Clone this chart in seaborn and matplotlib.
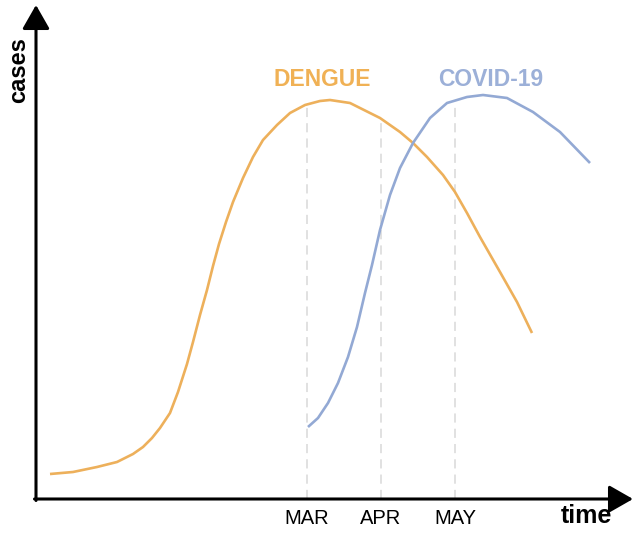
import matplotlib
matplotlib.use('Agg')
import matplotlib.pyplot as plt
import seaborn as sns
import pandas as pd

# curves (time units / case units, origin at the axes corner)
dengue_time = [14, 37, 61, 81, 97, 107, 116, 124, 134, 142, 151, 157, 164, 171, 177, 183, 190,
               197, 207, 217, 227, 241, 254, 269, 284, 294, 314, 344, 364, 377, 391, 407, 419,
               431, 444, 464, 481, 496]
dengue_cases = [25, 27, 32, 37, 45, 52, 61, 71, 86, 107, 135, 157, 184, 209, 233, 255, 277,
                297, 321, 342, 359, 374, 386, 394, 398, 399, 396, 381, 367, 356, 342, 324, 307,
                286, 262, 227, 197, 166]

covid_time = [272, 282, 292, 302, 312, 321, 329, 336, 344, 354, 364, 377, 394, 411, 431, 447,
              471, 497, 524, 554]
covid_cases = [72, 81, 96, 116, 142, 172, 206, 234, 269, 304, 331, 356, 381, 396, 402, 404,
               401, 387, 367, 336]

months = ['MAR', 'APR', 'MAY']
month_time = [271, 345, 419]
month_top = [394, 381, 396]

dengue_color = '#EDB05B'
covid_color = '#93A9D4'

sns.set_theme(style='white')
plt.rcParams['font.family'] = ['Liberation Sans', 'DejaVu Sans']

df = pd.concat([
    pd.DataFrame({'time': dengue_time, 'cases': dengue_cases, 'disease': 'DENGUE'}),
    pd.DataFrame({'time': covid_time, 'cases': covid_cases, 'disease': 'COVID-19'}),
])

fig = plt.figure(figsize=(6.37, 5.38), dpi=100)
ax = fig.add_axes([36 / 637, 39 / 538, 601 / 637, 499 / 538])

# dashed month guides
for t, top in zip(month_time, month_top):
    ax.plot([t, t], [0, top], color='#D9D9D9', lw=1.1, ls=(0, (6, 4)), zorder=1)

sns.lineplot(data=df, x='time', y='cases', hue='disease',
             palette={'DENGUE': dengue_color, 'COVID-19': covid_color},
             linewidth=1.9, legend=False, sort=False, ax=ax, zorder=2,
             solid_joinstyle='round', solid_capstyle='butt')

ax.set_xlim(0, 601)
ax.set_ylim(0, 499)
for s in ax.spines.values():
    s.set_visible(False)
ax.grid(False)

# axes as arrows
arrow = dict(arrowstyle='-|>,head_length=0.35,head_width=0.2', lw=2.2, color='black',
             mutation_scale=42, shrinkA=0, shrinkB=0)
ax.annotate('', xy=(0, 494), xytext=(0, -1.5), arrowprops=arrow, annotation_clip=False)
ax.annotate('', xy=(597, 0), xytext=(-1.5, 0), arrowprops=arrow, annotation_clip=False)

ax.set_xticks(month_time)
ax.set_xticklabels(months, fontsize=14.5, color='black')
ax.set_yticks([])
ax.tick_params(axis='x', length=0, pad=7)
ax.set_xlabel('')
ax.set_ylabel('')

ax.text(286, 413, 'DENGUE', color='#F0B155', fontsize=16.5, fontweight='bold',
        ha='center', va='baseline')
ax.text(455, 413, 'COVID-19', color='#9CB0D8', fontsize=16.5, fontweight='bold',
        ha='center', va='baseline')
ax.text(550, -24, 'time', fontsize=18, fontweight='bold', color='black',
        ha='center', va='baseline', clip_on=False)
ax.text(-11, 429, 'cases', fontsize=17, fontweight='bold', color='black', rotation=90,
        rotation_mode='anchor', ha='center', va='baseline', clip_on=False)

fig.savefig('out.png', dpi=100)
